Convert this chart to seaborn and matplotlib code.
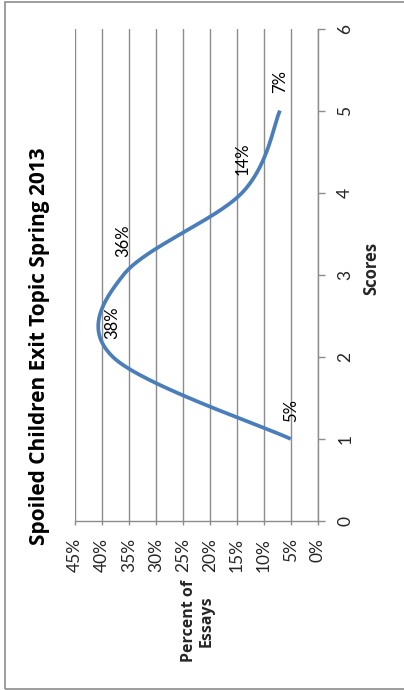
import numpy as np
import pandas as pd
import matplotlib
matplotlib.use("Agg")
import matplotlib.pyplot as plt
import seaborn as sns
from matplotlib.patches import Rectangle

# Essay score distribution
scores = [1, 2, 3, 4, 5]
percent_of_essays = [5, 38, 36, 14, 7]
percent_ticks = [0, 5, 10, 15, 20, 25, 30, 35, 40, 45]
score_ticks = [0, 1, 2, 3, 4, 5, 6]
title_text = "Spoiled Children Exit Topic Spring 2013"
score_axis_title = "Scores"
percent_axis_title = "Percent of\nEssays"

LINE_BLUE = "#4A7EBB"
AXIS_GRAY = "#8C8C8C"
FONT = ["Lato", "DejaVu Sans"]
BOLD_FONT = ["Open Sans", "DejaVu Sans"]


def smooth_curve(xs, ys, n=60):
    """Cubic Bezier smoothing through every point (Catmull-Rom tangents)."""
    pts = np.column_stack([xs, ys]).astype(float)
    padded = np.vstack([pts[0], pts, pts[-1]])
    t = np.linspace(0, 1, n)[:, None]
    parts = []
    for i in range(len(pts) - 1):
        p0, p1, p2, p3 = padded[i], padded[i + 1], padded[i + 2], padded[i + 3]
        c1 = p1 + (p2 - p0) / 6
        c2 = p2 - (p3 - p1) / 6
        seg = ((1 - t) ** 3) * p1 + 3 * ((1 - t) ** 2) * t * c1 \
            + 3 * (1 - t) * t ** 2 * c2 + t ** 3 * p2
        parts.append(seg if i == 0 else seg[1:])
    return np.vstack(parts)


sns.set_style("white")
plt.rcParams["font.family"] = FONT

W, H, DPI = 404, 690, 100
fig = plt.figure(figsize=(W / DPI, H / DPI), dpi=DPI)
fig.patch.set_facecolor("white")

# The chart is laid out turned a quarter turn: percent runs along the
# horizontal axis (high values at left), scores run upward.
left_px, right_px, top_px, bottom_px = 75, 317.7, 28.5, 521
ax = fig.add_axes([left_px / W, 1 - bottom_px / H,
                   (right_px - left_px) / W, (bottom_px - top_px) / H])

curve = smooth_curve(percent_of_essays, scores)
curve_df = pd.DataFrame({"percent": curve[:, 0], "score": curve[:, 1]})
sns.lineplot(data=curve_df, x="percent", y="score", sort=False,
             estimator=None, color=LINE_BLUE, linewidth=2.7,
             solid_capstyle="butt", ax=ax, zorder=3)

ax.set_xlim(45, 0)
ax.set_ylim(0, 6)
ax.set_xlabel("")
ax.set_ylabel("")

ax.set_xticks(percent_ticks)
ax.set_xticklabels([f"{v}%" for v in percent_ticks])
ax.set_yticks(score_ticks)
ax.set_yticklabels([str(v) for v in score_ticks])
ax.yaxis.tick_right()

ax.grid(axis="x", color=AXIS_GRAY, linewidth=1.0)
ax.grid(axis="y", visible=False)

for side in ("left", "top"):
    ax.spines[side].set_visible(False)
for side in ("bottom", "right"):
    ax.spines[side].set_color(AXIS_GRAY)
    ax.spines[side].set_linewidth(1.0)

ax.tick_params(axis="x", direction="out", length=3, width=1.0,
               color=AXIS_GRAY, pad=9, labelsize=12.5, labelrotation=90,
               bottom=True)
ax.tick_params(axis="y", direction="out", length=5, width=1.0,
               color=AXIS_GRAY, pad=9, labelsize=12.5, labelrotation=90,
               right=True, left=False)
for lab in ax.get_yticklabels():
    lab.set_va("center")
    lab.set_ha("left")

# Value labels beside each point
for s, p in zip(scores, percent_of_essays):
    ax.annotate(f"{p}%", xy=(p, s), xytext=(0, 12.5),
                textcoords="offset points", rotation=90,
                ha="center", va="bottom", fontsize=12, color="black",
                zorder=4)

fig.text(40 / W, 1 - 346 / H, title_text, rotation=90, ha="center",
         va="center", fontsize=15, fontweight="bold", color="black",
         family=BOLD_FONT)
fig.text(371.5 / W, 1 - 268 / H, score_axis_title, rotation=90,
         ha="center", va="center", fontsize=12, fontweight="bold",
         family=BOLD_FONT)
fig.text(198 / W, 1 - 621 / H, percent_axis_title, rotation=90,
         ha="center", va="center", fontsize=11.5, fontweight="bold",
         multialignment="center", linespacing=1.15, family=BOLD_FONT)

# Chart area frame
fig.patches.append(Rectangle((4.5 / W, 1.0 / H), 1.2, 1 - 3.0 / H,
                             transform=fig.transFigure, fill=False,
                             edgecolor=AXIS_GRAY, linewidth=1.2))

fig.savefig("out.png", dpi=DPI, facecolor="white")
